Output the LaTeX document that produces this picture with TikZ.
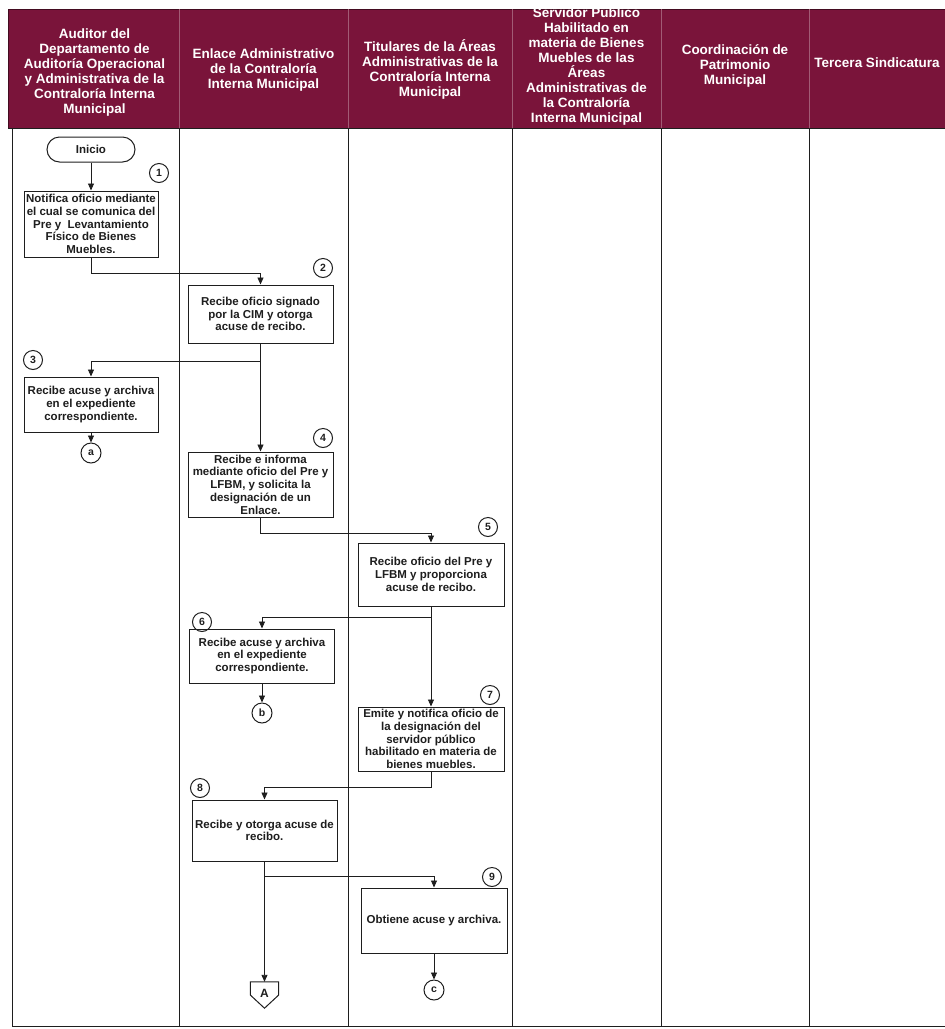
\documentclass[tikz,border=0pt]{standalone}
\usepackage{fontspec}
\setmainfont{Liberation Sans}
\usetikzlibrary{arrows.meta,calc}
\definecolor{hdr}{RGB}{122,20,58}
\definecolor{ink}{RGB}{30,30,30}
\begin{document}
\begin{tikzpicture}[x=1pt,y=-1pt,
  hdrtext/.style={text=white,font=\fontsize{13.5}{15}\selectfont\bfseries,align=center,inner sep=0pt},
  proc/.style={draw=ink,line width=1pt,fill=white,align=center,inner sep=1.5pt,font=\fontsize{11.5}{12.7}\selectfont\bfseries,text=ink},
  num/.style={draw=ink,line width=1pt,circle,minimum size=19pt,inner sep=0pt,font=\fontsize{10.5}{12}\selectfont\bfseries,text=ink},
  flow/.style={draw=ink,line width=0.9pt,-{Triangle[length=7pt,width=6pt]}},
  lane/.style={draw=ink,line width=0.9pt}
]
\useasboundingbox (0,0) rectangle (945,1029);
% header band
\fill[hdr] (8,9) rectangle (945,128);
\draw[hdr!55!black,line width=0.8pt] (8,9) -- (945,9);
\draw[hdr!55!black,line width=0.8pt] (8,9) -- (8,128);
\foreach \x in {179,348,512,661,809} \draw[hdr!70!white,line width=0.6pt] (\x,9) -- (\x,128);
\draw[lane] (8,128) -- (945,128);
% lanes
\draw[lane] (12,128) -- (12,1026) -- (945,1026);
\foreach \x in {179,348,512,661,809} \draw[lane] (\x,128) -- (\x,1026);
% header texts
\node[hdrtext] (h1) at (94.5,73) {Auditor del\\Departamento de\\Auditoría Operacional\\y Administrativa de la\\Contraloría Interna\\Municipal};
\node[hdrtext] (h2) at (263.5,70) {Enlace Administrativo\\de la Contraloría\\Interna Municipal};
\node[hdrtext] (h3) at (430,69) {Titulares de la Áreas\\Administrativas de la\\Contraloría Interna\\Municipal};
\node[hdrtext] (h4) at (586.5,66) {Servidor Público\\Habilitado en\\materia de Bienes\\Muebles de las\\Áreas\\Administrativas de\\la Contraloría\\Interna Municipal};
\node[hdrtext] (h5) at (735,66) {Coordinación de\\Patrimonio\\Municipal};
\node[hdrtext] (h6) at (877,63) {Tercera Sindicatura};
% flow nodes
\node[draw=ink,line width=1pt,rounded corners=12.5pt,minimum width=88pt,minimum height=25pt,font=\fontsize{11.5}{12.7}\selectfont\bfseries,text=ink] (ini) at (91,149.5) {Inicio};
\node[proc,minimum width=134pt,minimum height=66pt] (b1) at (91,224) {Notifica oficio mediante\\el cual se comunica del\\Pre y\ \ Levantamiento\\Físico de Bienes\\Muebles.};
\node[proc,minimum width=145pt,minimum height=58pt] (b2) at (260.5,314) {Recibe oficio signado\\por la CIM y otorga\\acuse de recibo.};
\node[proc,minimum width=134pt,minimum height=55pt] (b3) at (91,404.5) {Recibe acuse y archiva\\en el expediente\\correspondiente.};
\node[proc,minimum width=145pt,minimum height=65pt] (b4) at (260.5,484.5) {Recibe e informa\\mediante oficio del Pre y\\LFBM, y solicita la\\designación de un\\Enlace.};
\node[proc,minimum width=146pt,minimum height=63pt] (b5) at (431,574.5) {Recibe oficio del Pre y\\LFBM y proporciona\\acuse de recibo.};
\node[proc,minimum width=145pt,minimum height=54pt] (b6) at (262,656) {Recibe acuse y archiva\\en el expediente\\correspondiente.};
\node[proc,minimum width=146pt,minimum height=64pt] (b7) at (431,739) {Emite y notifica oficio de\\la designación del\\servidor público\\habilitado en materia de\\bienes muebles.};
\node[proc,minimum width=145pt,minimum height=61pt] (b8) at (264.5,830.5) {Recibe y otorga acuse de\\recibo.};
\node[proc,minimum width=146pt,minimum height=65pt] (b9) at (434,920.5) {Obtiene acuse y archiva.};
% step numbers
\node[num] (c1) at (159,173) {1};
\node[num] (c2) at (323,268) {2};
\node[num] (c3) at (33,360) {3};
\node[num] (c4) at (323,438) {4};
\node[num] (c5) at (488,527) {5};
\node[num] (c6) at (202,622) {6};
\node[num] (c7) at (490,695) {7};
\node[num] (c8) at (200,788) {8};
\node[num] (c9) at (492,877) {9};
% connectors
\node[num,minimum size=20pt] (ca) at (91,453) {a};
\node[num,minimum size=20pt] (cb) at (262,713) {b};
\node[num,minimum size=20pt] (cc) at (434,990) {c};
\node[minimum width=28pt,minimum height=26pt,inner sep=0pt,font=\fontsize{12}{13}\selectfont\bfseries,text=ink] (A) at (264.5,995) {\raisebox{3pt}{A}};
\draw[draw=ink,line width=1pt,line join=miter] (A.north west) -- (A.north east) -- (A.east) -- (A.south) -- (A.west) -- cycle;
% flow lines
\coordinate (j2) at ($(b2.south)+(0,18)$);
\coordinate (j5) at ($(b5.south)+(0,11)$);
\coordinate (j8) at ($(b8.south)+(0,15)$);
\draw[flow] (ini.south) -- (b1.north);
\draw[flow] (b1.south) -- ++(0,16) -| (b2.north);
\draw[flow] (b2.south) -- (b4.north);
\draw[flow] (j2) -| (b3.north);
\draw[flow] (b3.south) -- (ca.north);
\draw[flow] (b4.south) -- ++(0,16) -| (b5.north);
\draw[flow] (b5.south) -- (b7.north);
\draw[flow] (j5) -| (b6.north);
\draw[flow] (b6.south) -- (cb.north);
\draw[flow] (b7.south) -- ++(0,16) -| (b8.north);
\draw[flow] (b8.south) -- (A.north);
\draw[flow] (j8) -| (b9.north);
\draw[flow] (b9.south) -- (cc.north);
\end{tikzpicture}
\end{document}
